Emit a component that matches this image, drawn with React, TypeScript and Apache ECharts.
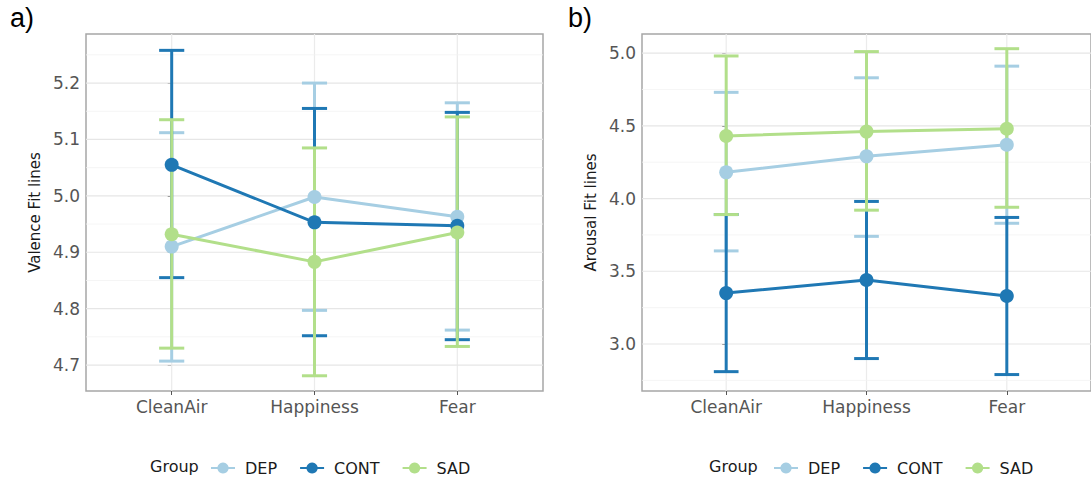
import React, { useEffect, useRef } from 'react';
import * as echarts from 'echarts';

const categories = ['CleanAir', 'Happiness', 'Fear'];
const groups = ['DEP', 'CONT', 'SAD'];
const groupColors = ['#a6cee3', '#1f78b4', '#b2df8a'];

// Valence (panel a)
const valenceDEP = [4.910, 4.998, 4.963];
const valenceDEPLow = [4.707, 4.797, 4.762];
const valenceDEPHigh = [5.112, 5.200, 5.165];
const valenceCONT = [5.055, 4.953, 4.947];
const valenceCONTLow = [4.855, 4.752, 4.745];
const valenceCONTHigh = [5.258, 5.155, 5.148];
const valenceSAD = [4.932, 4.883, 4.935];
const valenceSADLow = [4.730, 4.681, 4.733];
const valenceSADHigh = [5.135, 5.085, 5.140];

// Arousal (panel b)
const arousalDEP = [4.18, 4.29, 4.37];
const arousalDEPLow = [3.64, 3.74, 3.83];
const arousalDEPHigh = [4.73, 4.83, 4.91];
const arousalCONT = [3.35, 3.44, 3.33];
const arousalCONTLow = [2.81, 2.90, 2.79];
const arousalCONTHigh = [3.89, 3.98, 3.87];
const arousalSAD = [4.43, 4.46, 4.48];
const arousalSADLow = [3.89, 3.92, 3.94];
const arousalSADHigh = [4.98, 5.01, 5.03];

const valenceTicks = [4.7, 4.8, 4.9, 5.0, 5.1, 5.2];
const valenceMinorTicks = [4.75, 4.85, 4.95, 5.05, 5.15, 5.25];
const arousalTicks = [3.0, 3.5, 4.0, 4.5, 5.0];
const arousalMinorTicks = [2.75, 3.25, 3.75, 4.25, 4.75];

const FONT = "'DejaVu Sans', 'Liberation Sans', Arial, sans-serif";
const CAP = 0.088;

function buildPanel(
  gi: number,
  means: number[][],
  lows: number[][],
  highs: number[][],
  ticks: number[],
  minor: number[]
) {
  const series: any[] = [];
  // vertical grid lines
  series.push({
    type: 'custom',
    xAxisIndex: gi,
    yAxisIndex: gi,
    silent: true,
    clip: false,
    data: categories.map((c, i) => [i]),
    encode: { x: 0 },
    renderItem: (params: any, api: any) => {
      const cs = params.coordSys;
      const x = api.coord([api.value(0), ticks[0]])[0];
      return {
        type: 'line',
        shape: { x1: x, y1: cs.y, x2: x, y2: cs.y + cs.height },
        style: { stroke: '#ebebeb', lineWidth: 1.2 },
      };
    },
  });
  // horizontal grid lines
  series.push({
    type: 'custom',
    xAxisIndex: gi,
    yAxisIndex: gi,
    silent: true,
    clip: false,
    data: ticks.map((v) => [v, 1]).concat(minor.map((v) => [v, 0])),
    encode: { y: 0 },
    renderItem: (params: any, api: any) => {
      const cs = params.coordSys;
      const y = api.coord([0, api.value(0)])[1];
      const major = api.value(1) === 1;
      return {
        type: 'line',
        shape: { x1: cs.x, y1: y, x2: cs.x + cs.width, y2: y },
        style: { stroke: major ? '#e6e6e6' : '#f3f3f3', lineWidth: major ? 1.2 : 0.8 },
      };
    },
  });
  // error bars
  groups.forEach((g, k) => {
    const color = groupColors[k];
    series.push({
      type: 'custom',
      name: g + '-err',
      xAxisIndex: gi,
      yAxisIndex: gi,
      silent: true,
      clip: false,
      data: categories.map((c, i) => [i, lows[k][i], highs[k][i]]),
      encode: { x: 0, y: [1, 2] },
      renderItem: (params: any, api: any) => {
        const x = api.value(0);
        const lo = api.coord([x, api.value(1)]);
        const hi = api.coord([x, api.value(2)]);
        const right = api.coord([x + CAP, api.value(2)]);
        const hw = right[0] - hi[0];
        const style = { stroke: color, lineWidth: 3 };
        return {
          type: 'group',
          children: [
            { type: 'line', shape: { x1: lo[0], y1: lo[1], x2: hi[0], y2: hi[1] }, style },
            { type: 'line', shape: { x1: hi[0] - hw, y1: hi[1], x2: hi[0] + hw, y2: hi[1] }, style },
            { type: 'line', shape: { x1: lo[0] - hw, y1: lo[1], x2: lo[0] + hw, y2: lo[1] }, style },
          ],
        };
      },
    });
  });
  // lines + points
  groups.forEach((g, k) => {
    series.push({
      type: 'line',
      name: g,
      xAxisIndex: gi,
      yAxisIndex: gi,
      data: categories.map((c, i) => [i, means[k][i]]),
      symbol: 'circle',
      symbolSize: 14,
      lineStyle: { color: groupColors[k], width: 3 },
      itemStyle: { color: groupColors[k] },
      z: 3,
    });
  });
  return series;
}

export default function App() {
  const ref = useRef<HTMLDivElement>(null);
  useEffect(() => {
    if (!ref.current) return;
    const chart = echarts.init(ref.current, undefined, { renderer: 'svg' });
    const seriesA = buildPanel(
      0,
      [valenceDEP, valenceCONT, valenceSAD],
      [valenceDEPLow, valenceCONTLow, valenceSADLow],
      [valenceDEPHigh, valenceCONTHigh, valenceSADHigh],
      valenceTicks,
      valenceMinorTicks
    );
    const seriesB = buildPanel(
      1,
      [arousalDEP, arousalCONT, arousalSAD],
      [arousalDEPLow, arousalCONTLow, arousalSADLow],
      [arousalDEPHigh, arousalCONTHigh, arousalSADHigh],
      arousalTicks,
      arousalMinorTicks
    );
    const xAxisBase = (gi: number) => ({
      gridIndex: gi,
      type: 'value',
      min: -0.6,
      max: 2.6,
      splitLine: { show: false },
      axisLine: { show: false },
      axisTick: { show: true, customValues: [0, 1, 2], length: 4, lineStyle: { color: '#555', width: 1 } },
      axisLabel: {
        customValues: [0, 1, 2],
        formatter: (v: number) => categories[Math.round(v)] ?? '',
        color: '#555',
        fontSize: 17,
        margin: 7,
        fontFamily: FONT,
      },
    });
    const yAxisBase = (gi: number, min: number, max: number, ticks: number[], name: string) => ({
      gridIndex: gi,
      type: 'value',
      min,
      max,
      splitLine: { show: false },
      axisLine: { show: false },
      axisTick: { show: true, customValues: ticks, length: 4, lineStyle: { color: '#555', width: 1 } },
      axisLabel: {
        customValues: ticks,
        formatter: (v: number) => v.toFixed(1),
        color: '#555',
        fontSize: 17,
        margin: 6,
        fontFamily: FONT,
      },
      name,
      nameLocation: 'middle',
      nameGap: 44,
      nameTextStyle: { fontSize: 15, color: '#1a1a1a', fontFamily: FONT },
    });
    const legendBase = (left: number) => ({
      data: groups,
      left,
      top: 460,
      padding: 0,
      itemWidth: 24,
      itemHeight: 14,
      itemGap: 22,
      selectedMode: false,
      textStyle: { fontSize: 16, color: '#1a1a1a', fontFamily: FONT, padding: [0, 0, 0, 5] },
    });
    chart.setOption({
      animation: false,
      backgroundColor: '#ffffff',
      grid: [
        { left: 86, top: 34, width: 457, height: 357, show: true, borderColor: '#a6a6a6', borderWidth: 1.5, backgroundColor: '#fff' },
        { left: 642, top: 34, width: 456, height: 357, show: true, borderColor: '#a6a6a6', borderWidth: 1.5, backgroundColor: '#fff' },
      ],
      xAxis: [xAxisBase(0), xAxisBase(1)],
      yAxis: [
        yAxisBase(0, 4.654, 5.287, valenceTicks, 'Valence Fit lines'),
        yAxisBase(1, 2.677, 5.131, arousalTicks, 'Arousal Fit lines'),
      ],
      legend: [legendBase(210), legendBase(773)],
      graphic: [
        { type: 'text', left: 10, top: 4, style: { text: 'a)', fontSize: 27, fill: '#000', fontFamily: "'Liberation Sans', Arial, sans-serif" } },
        { type: 'text', left: 568, top: 4, style: { text: 'b)', fontSize: 27, fill: '#000', fontFamily: "'Liberation Sans', Arial, sans-serif" } },
        { type: 'text', left: 150, top: 458, style: { text: 'Group', fontSize: 16, fill: '#1a1a1a', fontFamily: FONT } },
        { type: 'text', left: 709, top: 458, style: { text: 'Group', fontSize: 16, fill: '#1a1a1a', fontFamily: FONT } },
      ],
      series: [...seriesA, ...seriesB],
    });
    return () => chart.dispose();
  }, []);
  return <div ref={ref} style={{ position: 'absolute', left: 0, top: 0, width: 1091, height: 480 }} />;
}
